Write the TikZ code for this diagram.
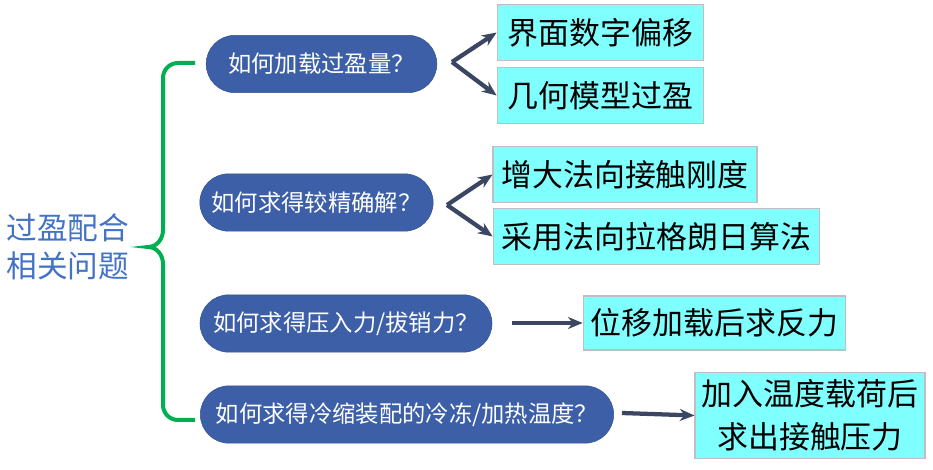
\documentclass[tikz,border=0pt]{standalone}
\usepackage{fontspec}
\newfontfamily\cjk{Noto Sans CJK SC}
\usetikzlibrary{shapes.misc, arrows.meta, positioning}
\definecolor{pillblue}{HTML}{3C5FA8}
\definecolor{pilledge}{HTML}{34528F}
\definecolor{boxcyan}{HTML}{80FFFF}
\definecolor{boxedge}{HTML}{BFBFBF}
\definecolor{linkgray}{HTML}{3B4663}
\definecolor{bracegreen}{HTML}{00B050}
\definecolor{titleblue}{HTML}{4472C4}
\begin{document}
\begin{tikzpicture}[x=0.75pt, y=-0.75pt,
    question/.style={rounded rectangle, draw=pilledge, fill=pillblue, text=white,
      font=\cjk\fontsize{17.5}{20}\selectfont, minimum height=43pt, inner sep=0pt},
    answer/.style={draw=boxedge, line width=0.8pt, fill=boxcyan, text=black,
      font=\cjk\fontsize{23.2}{28}\selectfont, minimum height=41.5pt, inner sep=0pt},
    link/.style={draw=linkgray, line width=3.2pt, -{Stealth[length=11pt, width=9pt]}}]
  \useasboundingbox (0,0) rectangle (933,470);
  % title and brace
  \node[text=titleblue, font=\cjk\fontsize{23}{28.5}\selectfont, align=center] (title) at (68,247) {过盈配合\\相关问题};
  \draw[bracegreen, line width=3pt] (195,63) -- (178,63) to[out=180,in=90] (163,78) -- (163,230)
    to[out=270,in=0] (148,247) to[out=0,in=90] (163,264) -- (163,405) to[out=270,in=180] (178,420) -- (195,420);
  % questions
  \node[question, minimum width=173pt] (q1) at (321.5,64) {如何加载过盈量？};
  \node[question, minimum width=175pt] (q2) at (316.5,202.5) {如何求得较精确解？};
  \node[question, minimum width=219pt] (q3) at (346,323.5) {如何求得压入力/拔销力？};
  \node[question, minimum width=310pt] (q4) at (407,414.5) {如何求得冷缩装配的冷冻/加热温度？};
  % answers
  \node[answer, minimum width=155pt] (a1) at (600.5,32.5) {界面数字偏移};
  \node[answer, minimum width=155pt] (a2) at (600.5,95.5) {几何模型过盈};
  \node[answer, minimum width=198pt] (a3) at (625,174.5) {增大法向接触刚度};
  \node[answer, minimum width=245pt] (a4) at (656.5,236.5) {采用法向拉格朗日算法};
  \node[answer, minimum width=197pt, minimum height=40.5pt] (a5) at (714.5,323) {位移加载后求反力};
  \node[answer, minimum width=172.5pt, minimum height=64pt, align=center,
    font=\cjk\fontsize{23.2}{32}\selectfont] (a6) at (810,415.5) {加入温度载荷后\\求出接触压力};
  % connectors
  \coordinate (v1) at (452,62);
  \coordinate (v2) at (447,205);
  \coordinate (s3) at (512,323);
  \coordinate (s4) at (622,413);
  \draw[link] (v1) -- (a1.west);
  \draw[link] (v1) -- (a2.west);
  \draw[link] (v2) -- (a3.west);
  \draw[link] (v2) -- (a4.west);
  \draw[link] (s3) -- (a5.west);
  \draw[link] (s4) -- (a6.west);
\end{tikzpicture}
\end{document}
